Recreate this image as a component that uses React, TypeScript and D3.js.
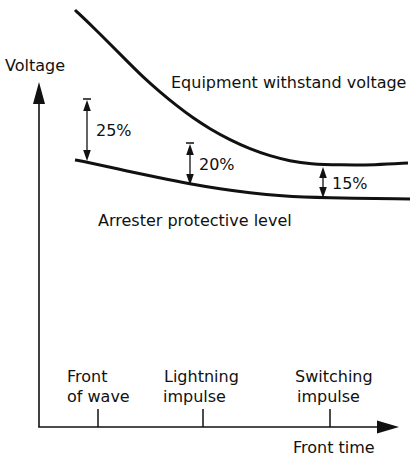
import * as d3 from 'd3';
import React from 'react';

// front time (arbitrary units) vs voltage (arbitrary units)
const equipmentTime = [36, 54, 71, 88, 104, 121, 138, 154, 171, 191, 211, 231, 251, 271, 301, 336, 369];
const equipmentVolt = [417, 400, 383, 366, 350, 335, 321, 309, 298, 287, 278, 271, 266, 263, 262, 262, 264];

const arresterTime = [36, 48, 88, 121, 151, 181, 211, 241, 284, 371];
const arresterVolt = [267, 265, 256, 249, 243, 238, 234, 231, 229, 228];

const marginLabels = ['25%', '20%', '15%'];
const marginTime = [48, 151, 284];
const marginTop = [328, 284, 260];
const marginBottom = [266, 242, 229];
const marginCapped = [true, true, false];

const tickLabels = [['Front', 'of wave'], ['Lightning', 'impulse'], ['Switching', 'impulse']];
const tickTime = [59, 164, 291];

const W = 416, H = 458;
const font = '"DejaVu Sans", sans-serif';

export default function App() {
  const x = d3.scaleLinear().domain([0, 360]).range([39, 399]);
  const y = d3.scaleLinear().domain([0, 420]).range([427, 7]);

  const line = d3.line<[number, number]>()
    .x(d => x(d[0]))
    .y(d => y(d[1]))
    .curve(d3.curveBasis);

  const equipment = equipmentTime.map((t, i) => [t, equipmentVolt[i]] as [number, number]);
  const arrester = arresterTime.map((t, i) => [t, arresterVolt[i]] as [number, number]);

  const x0 = x(0), y0 = y(0);
  const xEnd = x(360), yEnd = y(345);

  // small arrow heads on the margin markers
  const head = (cx: number, cy: number, up: boolean, len = 11, hw = 3.8) => {
    const s = up ? 1 : -1;
    return `M${cx},${cy}L${cx - hw},${cy + s * len}L${cx + hw},${cy + s * len}Z`;
  };

  const labelShift = [-31, -39, -35];
  const secondShift = [-31, -40, -33];

  return (
    <svg width={W} height={H} style={{ position: 'absolute', left: 0, top: 0, background: '#fff' }}
      fontFamily={font} fontSize={16} fill="#111">
      {/* axes */}
      <line x1={x0} y1={y0} x2={x0} y2={yEnd + 18} stroke="#111" strokeWidth={1.6} />
      <path d={`M${x0},${yEnd}L${x0 - 6},${yEnd + 22}L${x0 + 6},${yEnd + 22}Z`} fill="#111" />
      <line x1={x0 - 0.8} y1={y0} x2={xEnd - 18} y2={y0} stroke="#111" strokeWidth={1.6} />
      <path d={`M${xEnd},${y0}L${xEnd - 22},${y0 - 6.5}L${xEnd - 22},${y0 + 6.5}Z`} fill="#111" />

      {tickTime.map((t, i) => (
        <g key={i}>
          <line x1={x(t)} y1={y0} x2={x(t)} y2={y0 - 18} stroke="#111" strokeWidth={1.5} />
          <text x={x(t) + labelShift[i]} y={382}>{tickLabels[i][0]}</text>
          <text x={x(t) + secondShift[i]} y={402}>{tickLabels[i][1]}</text>
        </g>
      ))}

      <text x={5} y={71}>Voltage</text>
      <text x={293} y={453}>Front time</text>

      {/* curves */}
      <path d={line(equipment) || ''} fill="none" stroke="#111" strokeWidth={3} />
      <path d={line(arrester) || ''} fill="none" stroke="#111" strokeWidth={3} />

      <text x={171} y={88}>Equipment withstand voltage</text>
      <text x={98} y={226}>Arrester protective level</text>

      {/* protective margins */}
      {marginLabels.map((lab, i) => {
        const mx = x(marginTime[i]);
        const top = y(marginTop[i]);
        const bot = y(marginBottom[i]);
        const hTop = marginCapped[i] ? top + 1 : top;
        return (
          <g key={lab}>
            {marginCapped[i] && <line x1={mx - 4} x2={mx + 4} y1={top} y2={top} stroke="#111" strokeWidth={1.5} />}
            <line x1={mx} x2={mx} y1={hTop + 6} y2={bot - 6} stroke="#111" strokeWidth={1.3} />
            <path d={head(mx, hTop, true)} fill="#111" />
            <path d={head(mx, bot, false)} fill="#111" />
            <text x={mx + 9} y={(top + bot) / 2 + 6}>{lab}</text>
          </g>
        );
      })}
    </svg>
  );
}
